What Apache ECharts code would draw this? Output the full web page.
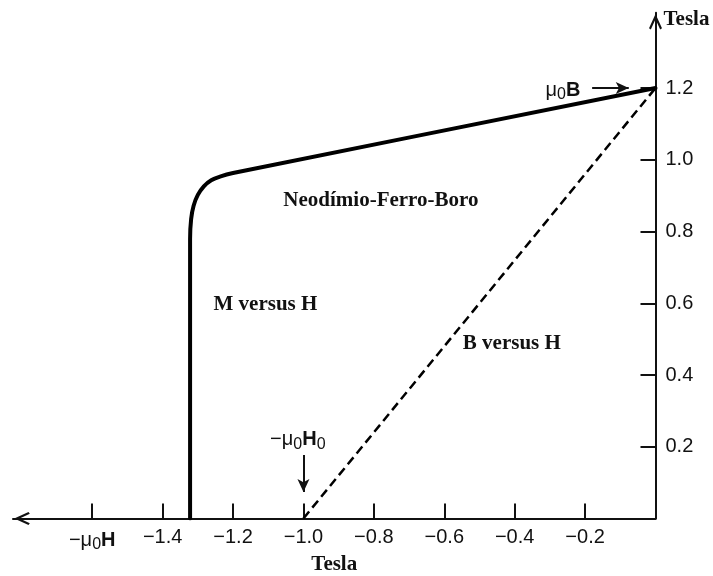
<!DOCTYPE html>
<html>
<head>
<meta charset="utf-8">
<script src="https://cdn.jsdelivr.net/npm/echarts@6/dist/echarts.min.js"></script>
<style>
  html, body { margin: 0; background: #fff; }
  #chart { width: 713px; height: 576px; }
</style>
</head>
<body>
<div id="chart"></div>
<script>
// M versus H: demagnetization curve (Tesla units)
const mCurve = [
  [-1.322, 0], [-1.322, 0.78], [-1.319, 0.835], [-1.312, 0.872], [-1.300, 0.902],
  [-1.283, 0.926], [-1.262, 0.943], [-1.235, 0.954], [-1.20, 0.963], [0, 1.2]
];
// B versus H: straight dashed line
const bLine = [[-1.0, 0], [0, 1.2]];

const xTickValues = [-1.6, -1.4, -1.2, -1.0, -0.8, -0.6, -0.4, -0.2];
const xTickLabels = ['{m|−μ}{s|0}{b|H}', '−1.4', '−1.2', '−1.0', '−0.8', '−0.6', '−0.4', '−0.2'];
const yTickValues = [0.2, 0.4, 0.6, 0.8, 1.0, 1.2];
const yTickLabels = ['0.2', '0.4', '0.6', '0.8', '1.0', '1.2'];

// text annotations, anchored in data coordinates
const notes = [
  { text: 'Neodímio-Ferro-Boro', at: [-0.78, 0.887], serif: true },
  { text: 'M versus H', at: [-1.108, 0.597], serif: true },
  { text: 'B versus H', at: [-0.408, 0.489], serif: true },
  { text: '{m|μ}{s|0}{b|B}', at: [-0.263, 1.194] },
  { text: '{m|−μ}{s|0}{b|H}{s|0}', at: [-1.016, 0.219] }
];
// pointer arrows [from, to]
const arrows = [
  [[-0.18, 1.2], [-0.076, 1.2]],
  [[-1.0, 0.177], [-1.0, 0.074]]
];

const SANS = '"Liberation Sans", Arial, sans-serif';
const SERIF = '"Liberation Serif", "Times New Roman", serif';
const INK = '#111';
const chevron = 'path://M5,0 L10,11 L8.6,12 L5,4.2 L1.4,12 L0,11 Z';

const richSans = {
  m: { fontFamily: SANS, fontSize: 20, color: INK },
  s: { fontFamily: SANS, fontSize: 16, color: INK, padding: [9, 0, 0, 0] },
  b: { fontFamily: SANS, fontSize: 20, fontWeight: 'bold', color: INK }
};

function pick(values, labels) {
  return v => {
    const i = values.findIndex(t => Math.abs(t - v) < 1e-6);
    return i < 0 ? '' : labels[i];
  };
}

const chart = echarts.init(document.getElementById('chart'));
chart.setOption({
  animation: false,
  backgroundColor: '#fff',
  grid: { left: 13, right: 57.5, top: 12.7, bottom: 57.5, containLabel: false, outerBoundsMode: 'none' },
  xAxis: {
    type: 'value',
    min: -1.825,
    max: 0,
    position: 'bottom',
    name: 'Tesla',
    nameLocation: 'middle',
    nameGap: 36,
    nameMoveOverlap: false,
    nameTextStyle: { fontFamily: SERIF, fontWeight: 'bold', fontSize: 21, color: INK },
    axisLine: {
      onZero: false,
      symbol: [chevron, 'none'],
      symbolSize: [13, 19],
      symbolOffset: [9, 0],
      lineStyle: { color: INK, width: 2 }
    },
    axisTick: { inside: true, length: 15, customValues: xTickValues, lineStyle: { color: INK, width: 2 } },
    axisLabel: {
      customValues: xTickValues,
      formatter: pick(xTickValues, xTickLabels),
      margin: 9,
      fontFamily: SANS,
      fontSize: 20,
      color: INK,
      rich: richSans
    },
    splitLine: { show: false }
  },
  yAxis: {
    type: 'value',
    min: 0,
    max: 1.41,
    position: 'right',
    name: 'Tesla',
    nameLocation: 'end',
    nameGap: -7.3,
    nameMoveOverlap: false,
    nameTextStyle: {
      fontFamily: SERIF, fontWeight: 'bold', fontSize: 21, color: INK,
      align: 'left', verticalAlign: 'middle', padding: [0, 0, 0, 8]
    },
    axisLine: {
      onZero: false,
      symbol: ['none', chevron],
      symbolSize: [13, 19],
      symbolOffset: [0, -9],
      lineStyle: { color: INK, width: 2 }
    },
    axisTick: { inside: true, length: 15, customValues: yTickValues, lineStyle: { color: INK, width: 2 } },
    axisLabel: {
      customValues: yTickValues,
      formatter: pick(yTickValues, yTickLabels),
      margin: 10,
      fontFamily: SANS,
      fontSize: 20,
      color: INK
    },
    splitLine: { show: false }
  },
  series: [
    {
      name: 'M versus H',
      type: 'line',
      data: mCurve,
      smooth: 0.3,
      symbol: 'none',
      silent: true,
      lineStyle: { color: '#000', width: 4, cap: 'round', join: 'round' }
    },
    {
      name: 'B versus H',
      type: 'line',
      data: bLine,
      symbol: 'none',
      silent: true,
      lineStyle: { color: '#000', width: 2.5, type: [9, 5] }
    },
    {
      name: 'notes',
      type: 'scatter',
      symbolSize: 0,
      silent: true,
      itemStyle: { opacity: 1 },
      data: notes.map(n => ({
        value: n.at,
        label: {
          show: true,
          position: 'inside',
          formatter: n.text,
          fontFamily: n.serif ? SERIF : SANS,
          fontWeight: n.serif ? 'bold' : 'normal',
          fontSize: n.serif ? 21 : 20,
          color: INK,
          rich: richSans
        }
      })),
      markLine: {
        silent: true,
        symbol: ['none', 'arrow'],
        symbolSize: [9, 13],
        label: { show: false },
        lineStyle: { color: INK, width: 2, type: 'solid', opacity: 1 },
        emphasis: { disabled: true },
        data: arrows.map(a => [{ coord: a[0] }, { coord: a[1] }])
      }
    }
  ]
});
</script>
</body>
</html>
